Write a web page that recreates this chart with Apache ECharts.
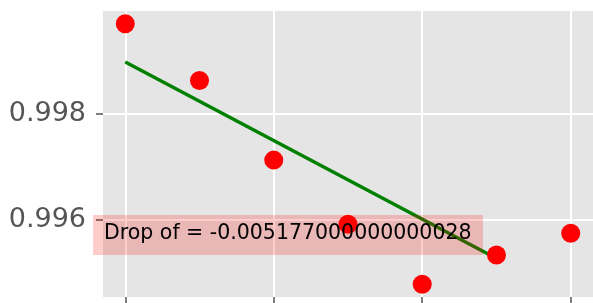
<!DOCTYPE html>
<html lang="en">
<head>
    <meta charset="UTF-8">
    <title>Drop chart</title>
    <style>
        html, body { margin: 0; padding: 0; background: #fff; }
    </style>
</head>
<body>
<div id="main" style="width:593px; height:303px;"></div>

<script src="https://cdn.jsdelivr.net/npm/echarts@6.0.0/dist/echarts.min.js"></script>
<script>
    // values
    var xValues = [0, 1, 2, 3, 4, 5, 6];
    var yValues = [0.99970, 0.99863, 0.99713, 0.99592, 0.99479, 0.99534, 0.99575];
    // fitted line end points
    var fitX = [0, 4.9];
    var fitY = [0.99898, 0.99535];
    var xTicks = [0, 2, 4, 6];
    var yTicks = [0.996, 0.998];
    var dropText = 'Drop of = -0.005177000000000028';

    var points = xValues.map(function (x, i) { return [x, yValues[i]]; });
    var fitLine = fitX.map(function (x, i) { return [x, fitY[i]]; });

    var myChart = echarts.init(document.getElementById('main'), null, { renderer: 'canvas' });
    var option = {
        animation: false,
        backgroundColor: '#ffffff',
        grid: {
            left: 103, top: 11, width: 491, height: 286,
            show: true, backgroundColor: '#E5E5E5', borderWidth: 0
        },
        xAxis: {
            type: 'value',
            min: -0.3, max: 6.3,
            axisLine: { show: false, onZero: false },
            axisTick: { show: true, length: 6, customValues: xTicks,
                lineStyle: { color: '#555555', width: 1.5 } },
            axisLabel: { show: false, customValues: xTicks },
            splitLine: { show: true, lineStyle: { color: '#ffffff', width: 2 } }
        },
        yAxis: {
            type: 'value',
            min: 0.99455, max: 0.99994,
            axisLine: { show: false, onZero: false },
            axisTick: { show: true, length: 7, customValues: yTicks,
                lineStyle: { color: '#555555', width: 1.5 } },
            axisLabel: {
                customValues: yTicks,
                margin: 17,
                color: '#555555',
                fontFamily: 'DejaVu Sans',
                fontSize: 27,
                formatter: function (v) { return v.toFixed(3); }
            },
            splitLine: { show: true, lineStyle: { color: '#ffffff', width: 2 } }
        },
        series: [
            {
                type: 'line',
                data: fitLine,
                symbol: 'none',
                lineStyle: { color: '#008000', width: 3.5 },
                z: 2
            },
            {
                type: 'scatter',
                data: points,
                symbolSize: 19,
                itemStyle: { color: '#ff0000', opacity: 1 },
                z: 3
            }
        ],
        graphic: [
            {
                type: 'rect',
                z: 100,
                shape: { x: 93, y: 215, width: 390, height: 40 },
                style: { fill: 'rgba(255,0,0,0.2)' }
            },
            {
                type: 'text',
                z: 101,
                x: 104, y: 234,
                style: {
                    text: dropText,
                    fill: '#000000',
                    font: '20.5px "DejaVu Sans"',
                    verticalAlign: 'middle'
                }
            }
        ]
    };

    myChart.setOption(option);
</script>
</body>
</html>
